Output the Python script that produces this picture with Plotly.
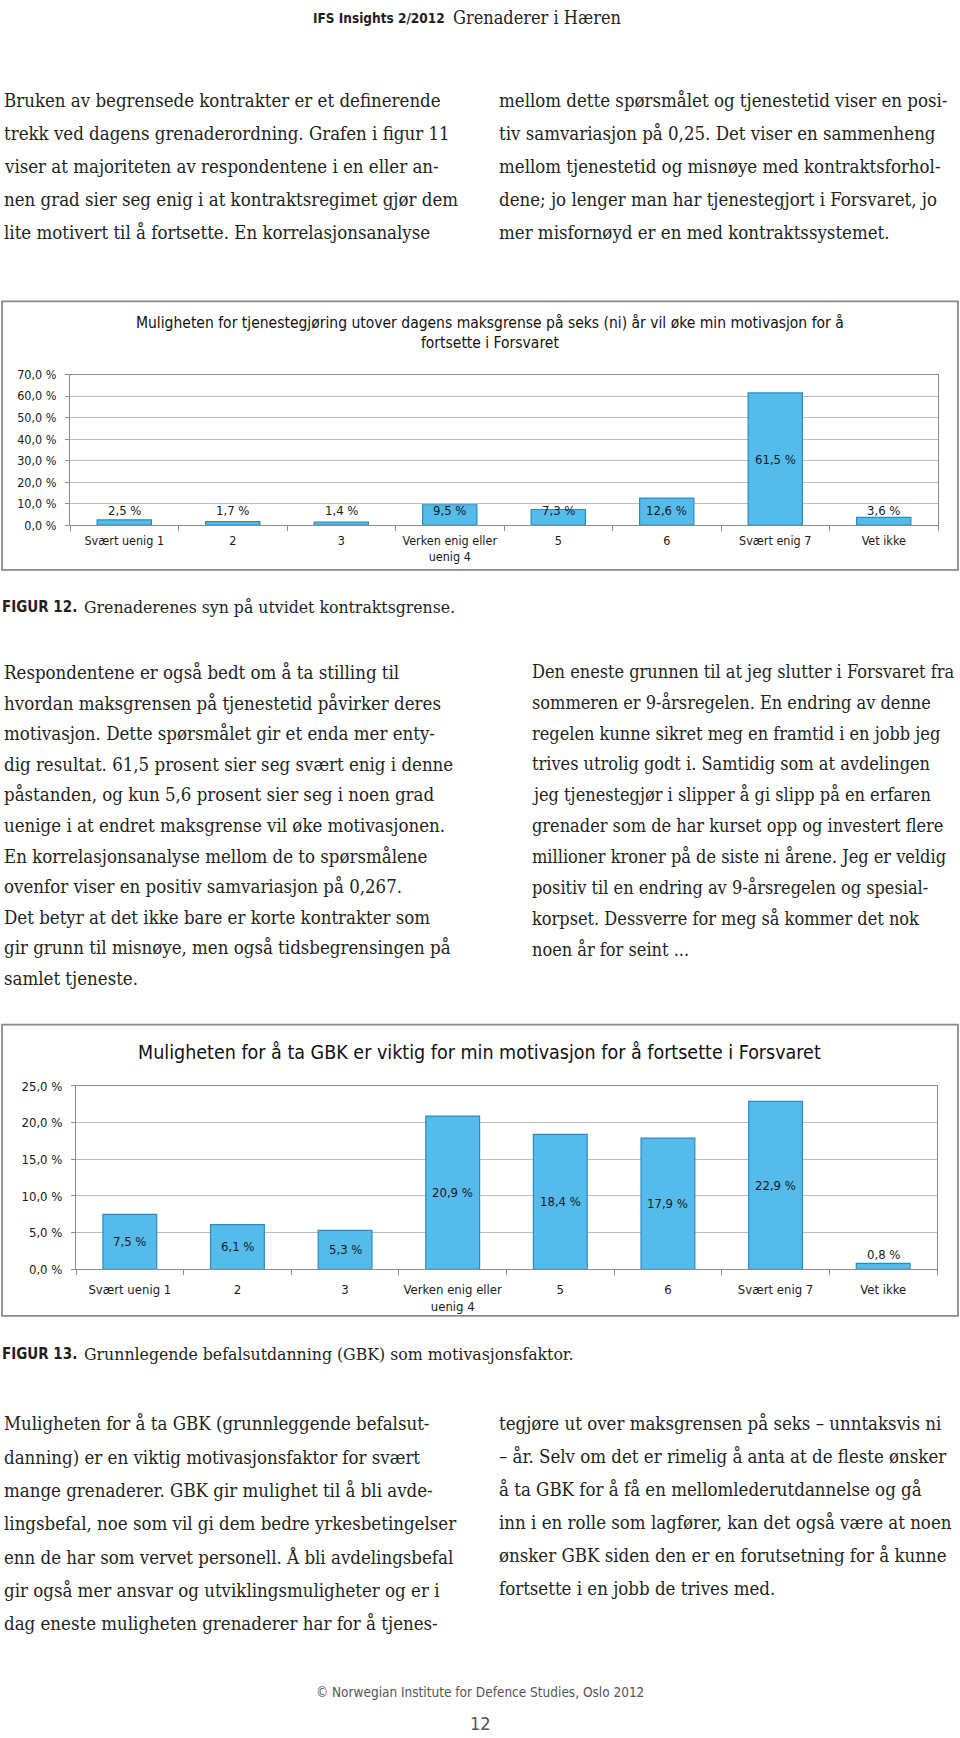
import plotly.graph_objects as go

W, H = 960, 1738

# ---------------- data ----------------
categories = ["Svært uenig 1", "2", "3", "Verken enig eller<br>uenig 4", "5", "6", "Svært enig 7", "Vet ikke"]
fig12_values = [2.5, 1.7, 1.4, 9.5, 7.3, 12.6, 61.5, 3.6]
fig13_values = [7.5, 6.1, 5.3, 20.9, 18.4, 17.9, 22.9, 0.8]
fig12_title = ("Muligheten for tjenestegjøring utover dagens maksgrense på seks (ni) år vil øke min motivasjon for å"
               "<br>fortsette i Forsvaret")
fig13_title = "Muligheten for å ta GBK er viktig for min motivasjon for å fortsette i Forsvaret"
fig12_ymax, fig12_dtick = 70, 10
fig13_ymax, fig13_dtick = 25, 5

header_bold = "IFS Insights 2/2012"
header_serif = "Grenaderer i Hæren"
caption12 = ("FIGUR 12.", "Grenaderenes syn på utvidet kontraktsgrense.")
caption13 = ("FIGUR 13.", "Grunnlegende befalsutdanning (GBK) som motivasjonsfaktor.")
footer = "© Norwegian Institute for Defence Studies, Oslo 2012"
page_no = "12"

top_left = [
    "Bruken av begrensede kontrakter er et definerende",
    "trekk ved dagens grenaderordning. Grafen i figur 11",
    "viser at majoriteten av respondentene i en eller an-",
    "nen grad sier seg enig i at kontraktsregimet gjør dem",
    "lite motivert til å fortsette. En korrelasjonsanalyse",
]
top_right = [
    "mellom dette spørsmålet og tjenestetid viser en posi-",
    "tiv samvariasjon på 0,25. Det viser en sammenheng",
    "mellom tjenestetid og misnøye med kontraktsforhol-",
    "dene; jo lenger man har tjenestegjort i Forsvaret, jo",
    "mer misfornøyd er en med kontraktssystemet.",
]
mid_left = [
    "Respondentene er også bedt om å ta stilling til",
    "hvordan maksgrensen på tjenestetid påvirker deres",
    "motivasjon. Dette spørsmålet gir et enda mer enty-",
    "dig resultat. 61,5 prosent sier seg svært enig i denne",
    "påstanden, og kun 5,6 prosent sier seg i noen grad",
    "uenige i at endret maksgrense vil øke motivasjonen.",
    "En korrelasjonsanalyse mellom de to spørsmålene",
    "ovenfor viser en positiv samvariasjon på 0,267.",
    "Det betyr at det ikke bare er korte kontrakter som",
    "gir grunn til misnøye, men også tidsbegrensingen på",
    "samlet tjeneste.",
]
mid_right = [
    "Den eneste grunnen til at jeg slutter i Forsvaret fra",
    "sommeren er 9-årsregelen. En endring av denne",
    "regelen kunne sikret meg en framtid i en jobb jeg",
    "trives utrolig godt i. Samtidig som at avdelingen",
    "jeg tjenestegjør i slipper å gi slipp på en erfaren",
    "grenader som de har kurset opp og investert flere",
    "millioner kroner på de siste ni årene. Jeg er veldig",
    "positiv til en endring av 9-årsregelen og spesial-",
    "korpset. Dessverre for meg så kommer det nok",
    "noen år for seint ...",
]
bot_left = [
    "Muligheten for å ta GBK (grunnleggende befalsut-",
    "danning) er en viktig motivasjonsfaktor for svært",
    "mange grenaderer. GBK gir mulighet til å bli avde-",
    "lingsbefal, noe som vil gi dem bedre yrkesbetingelser",
    "enn de har som vervet personell. Å bli avdelingsbefal",
    "gir også mer ansvar og utviklingsmuligheter og er i",
    "dag eneste muligheten grenaderer har for å tjenes-",
]
bot_right = [
    "tegjøre ut over maksgrensen på seks – unntaksvis ni",
    "– år. Selv om det er rimelig å anta at de fleste ønsker",
    "å ta GBK for å få en mellomlederutdannelse og gå",
    "inn i en rolle som lagfører, kan det også være at noen",
    "ønsker GBK siden den er en forutsetning for å kunne",
    "fortsette i en jobb de trives med.",
]

# ---------------- styling / layout ----------------
SANS = "DejaVu Sans Condensed, Liberation Sans Narrow, Liberation Sans, sans-serif"
NARROW = "Liberation Sans Narrow, DejaVu Sans Condensed, sans-serif"
SERIF = "DejaVu Serif Condensed, Liberation Serif, serif"
TXT = "#231F20"
BAR_FILL = "#55BBEA"
BAR_LINE = "#2A8CC6"
GRID = "#BDBDBD"
AXL = "#8C8C8C"


def px(x):
    return x / W


def py(y):
    return 1 - y / H


P1 = dict(x0=70, x1=938, y0=370, y1=522)
P2 = dict(x0=76, x1=937, y0=1088, y1=1273)
F1 = dict(x0=2, y0=296, x1=958, y1=567)
F2 = dict(x0=2, y0=1026, x1=958, y1=1320)

fig = go.Figure()
fig.add_trace(go.Bar(x=categories, y=fig12_values, xaxis="x", yaxis="y", width=0.5,
                     marker=dict(color=BAR_FILL, line=dict(color=BAR_LINE, width=1.2)),
                     hoverinfo="skip", showlegend=False))
fig.add_trace(go.Bar(x=categories, y=fig13_values, xaxis="x2", yaxis="y2", width=0.5,
                     marker=dict(color=BAR_FILL, line=dict(color=BAR_LINE, width=1.2)),
                     hoverinfo="skip", showlegend=False))


def xaxis_cfg(P, anchor, fs, standoff):
    return dict(domain=[px(P["x0"]), px(P["x1"])], anchor=anchor, type="category",
                categoryorder="array", categoryarray=categories,
                showline=True, linecolor=AXL, linewidth=1, mirror=True,
                ticks="outside", tickson="boundaries", ticklen=5, tickcolor=AXL,
                tickfont=dict(family=SANS, size=fs, color="#1a1a1a"),
                showgrid=False, fixedrange=True, ticklabelstandoff=standoff)


def yaxis_cfg(P, anchor, ymax, dtick, fs):
    return dict(domain=[py(P["y1"]), py(P["y0"])], anchor=anchor, range=[0, ymax], dtick=dtick,
                tickformat=".1f", ticksuffix=" %", showgrid=True, gridcolor=GRID, gridwidth=1,
                showline=True, linecolor=AXL, linewidth=1, mirror=True, zeroline=False,
                ticks="outside", ticklen=4, tickcolor=AXL,
                tickfont=dict(family=SANS, size=fs, color="#1a1a1a"),
                fixedrange=True, ticklabelstandoff=6)


annotations = []


def text(x, y, s, family, size, anchor="left", color=TXT):
    annotations.append(dict(x=px(x), y=py(y), xref="paper", yref="paper", text=s, showarrow=False,
                            xanchor=anchor, yanchor="middle",
                            font=dict(family=family, size=size, color=color)))


def block(lines, x, y0, dy, size, family=SERIF):
    for i, s in enumerate(lines):
        text(x, y0 + i * dy, s, family, size)


# header
text(447, 10, "<b>" + header_bold + "</b>", NARROW, 13.5, anchor="right")
text(451, 10, header_serif, SERIF, 18)

# body text
block(top_left, 2, 93.5, 33.3, 18.5)
block(top_right, 497, 93.5, 33.3, 18.5)
block(mid_left, 2, 670.6, 30.9, 18.5)
block(mid_right, 530, 669.5, 31.15, 18)
block(bot_left, 2, 1429, 33.6, 18.5)
block(bot_right, 497, 1429, 33.3, 18.5)

# captions
text(0, 605, "<b>" + caption12[0] + "</b>", NARROW, 15)
text(82, 605, caption12[1], SERIF, 17.5)
text(0, 1359, "<b>" + caption13[0] + "</b>", NARROW, 15)
text(82, 1359, caption13[1], SERIF, 17.5)

# footer
text(480, 1700, footer, SANS, 13.5, anchor="center", color="#555555")
text(480, 1731, page_no, SANS, 18, anchor="center", color="#555555")

# chart titles
annotations.append(dict(x=px(490), y=py(328), xref="paper", yref="paper", text=fig12_title,
                        showarrow=False, xanchor="center", yanchor="middle", align="center",
                        font=dict(family=SANS, size=15.5, color="#111111")))
annotations.append(dict(x=px(479), y=py(1054), xref="paper", yref="paper", text=fig13_title,
                        showarrow=False, xanchor="center", yanchor="middle",
                        font=dict(family=SANS, size=19.5, color="#111111")))


def fmt(v):
    return f"{v:.1f}".replace(".", ",") + " %"


# data labels: centred in bar, but at least ~15 px above the axis
for vals, P, ymax, xr, yr in [(fig12_values, P1, fig12_ymax, "x", "y"),
                              (fig13_values, P2, fig13_ymax, "x2", "y2")]:
    min_y = 15 * ymax / (P["y1"] - P["y0"])
    for i, v in enumerate(vals):
        annotations.append(dict(x=i, y=max(v / 2, min_y), xref=xr, yref=yr, text=fmt(v),
                                showarrow=False, xanchor="center", yanchor="middle",
                                font=dict(family=SANS, size=13, color="#1a1a1a")))

shapes = []
for F in (F1, F2):
    shapes.append(dict(type="rect", xref="paper", yref="paper", x0=px(F["x0"]), x1=px(F["x1"]),
                       y0=py(F["y1"]), y1=py(F["y0"]), line=dict(color="#8a8a8a", width=1.8),
                       fillcolor="rgba(0,0,0,0)", layer="below"))

fig.update_layout(
    width=W, height=H, autosize=False,
    margin=dict(l=0, r=0, t=0, b=0),
    paper_bgcolor="white", plot_bgcolor="white",
    separators=", ",
    xaxis=xaxis_cfg(P1, "y", 12.5, 4),
    yaxis=yaxis_cfg(P1, "x", fig12_ymax, fig12_dtick, 12.5),
    xaxis2=xaxis_cfg(P2, "y2", 13, 8),
    yaxis2=yaxis_cfg(P2, "x2", fig13_ymax, fig13_dtick, 13),
    annotations=annotations,
    shapes=shapes,
    showlegend=False,
)

fig.write_html("out.html", config={"displayModeBar": False, "staticPlot": True},
               post_script="document.body.style.margin='0';document.body.style.overflow='hidden';")
